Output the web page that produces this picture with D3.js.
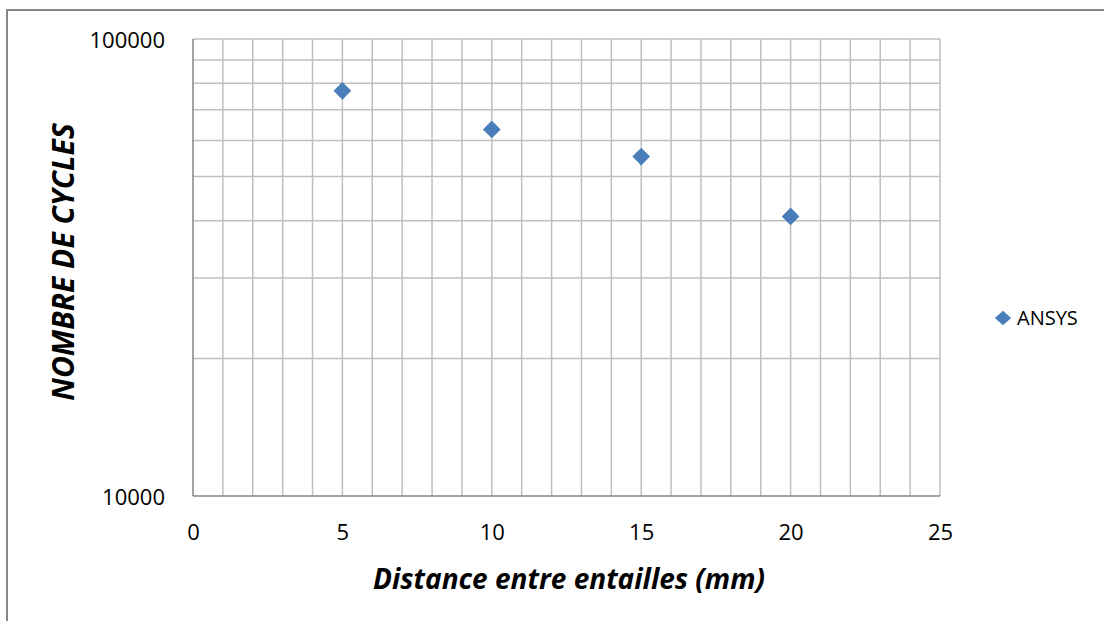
<!DOCTYPE html>
<html>
<head>
<meta charset="utf-8">
<script src="https://cdn.jsdelivr.net/npm/d3@7"></script>
<style>
  html, body { margin: 0; padding: 0; background: #fff; }
  svg text { font-family: "Open Sans", sans-serif; fill: #000; }
</style>
</head>
<body>
<div id="chart"></div>
<script>
const distances = [5, 10, 15, 20];
const cycles = [77000, 63400, 55300, 40900];
const xTicks = [0, 5, 10, 15, 20, 25];
const yTicks = [10000, 100000];
const seriesName = "ANSYS";

const width = 1104, height = 621;
const margin = { top: 39, right: 164, bottom: 125, left: 193 };
const innerW = width - margin.left - margin.right;
const innerH = height - margin.top - margin.bottom;

const svg = d3.select("#chart").append("svg")
  .attr("width", width)
  .attr("height", height);

// outer chart border (runs off the right and bottom edges)
svg.append("rect")
  .attr("x", 7).attr("y", 10)
  .attr("width", width + 10).attr("height", height + 10)
  .attr("fill", "none")
  .attr("stroke", "#868686")
  .attr("stroke-width", 2);

const g = svg.append("g")
  .attr("transform", `translate(${margin.left},${margin.top})`);

const x = d3.scaleLinear().domain([0, 25]).range([0, innerW]);
const y = d3.scaleLog().domain([10000, 100000]).range([innerH, 0]);

// grid: minor verticals every 1 unit
g.append("g")
  .selectAll("line")
  .data(d3.range(1, 25))
  .join("line")
  .attr("x1", d => x(d)).attr("x2", d => x(d))
  .attr("y1", 0).attr("y2", innerH)
  .attr("stroke", "#bfbfbf")
  .attr("stroke-width", 1.5);

// grid: log horizontals
g.append("g")
  .selectAll("line")
  .data(y.ticks().filter(d => d > 10000))
  .join("line")
  .attr("x1", 0).attr("x2", innerW)
  .attr("y1", d => y(d)).attr("y2", d => y(d))
  .attr("stroke", "#bfbfbf")
  .attr("stroke-width", 1.5);

// right border of plot
g.append("line")
  .attr("x1", innerW).attr("x2", innerW)
  .attr("y1", 0).attr("y2", innerH)
  .attr("stroke", "#bfbfbf").attr("stroke-width", 1.5);

// axes lines
g.append("line")
  .attr("x1", 0).attr("x2", 0).attr("y1", 0).attr("y2", innerH)
  .attr("stroke", "#868686").attr("stroke-width", 1.5);
g.append("line")
  .attr("x1", 0).attr("x2", innerW).attr("y1", innerH).attr("y2", innerH)
  .attr("stroke", "#868686").attr("stroke-width", 1.5);

// tick labels
const xAxis = d3.axisBottom(x).tickValues(xTicks).tickSize(0).tickPadding(28);
g.append("g")
  .attr("transform", `translate(0,${innerH})`)
  .call(xAxis)
  .call(s => s.select(".domain").remove())
  .selectAll("text")
  .style("font-size", "22px")
  .style("font-family", "'Open Sans', sans-serif");

const yAxis = d3.axisLeft(y).tickValues(yTicks).tickFormat(d3.format("d")).tickSize(0).tickPadding(28);
g.append("g")
  .call(yAxis)
  .call(s => s.select(".domain").remove())
  .selectAll("text")
  .attr("dy", "0.38em")
  .style("font-size", "22px")
  .style("font-family", "'Open Sans', sans-serif");

// points
const diamond = d3.symbol().type(d3.symbolDiamond2).size(200);
const data = distances.map((d, i) => ({ x: d, y: cycles[i] }));
g.selectAll("path.pt")
  .data(data)
  .join("path")
  .attr("class", "pt")
  .attr("d", diamond)
  .attr("transform", d => `translate(${x(d.x)},${y(d.y)})`)
  .attr("fill", "#4a7ebb");

// axis titles
svg.append("text")
  .attr("x", 569)
  .attr("y", 589)
  .attr("text-anchor", "middle")
  .style("font-size", "28px")
  .style("font-weight", "bold")
  .style("font-style", "italic")
  .text("Distance entre entailles (mm)");

svg.append("text")
  .attr("transform", "translate(74,262) rotate(-90)")
  .attr("text-anchor", "middle")
  .style("font-size", "30px")
  .style("font-weight", "bold")
  .style("font-style", "italic")
  .text("NOMBRE DE CYCLES");

// legend
const legend = svg.append("g").attr("transform", "translate(1003,318)");
legend.append("path")
  .attr("d", d3.symbol().type(d3.symbolDiamond2).size(170))
  .attr("transform", "scale(1,0.88)")
  .attr("fill", "#4a7ebb");
legend.append("text")
  .attr("x", 14).attr("y", 7)
  .style("font-size", "20px")
  .text(seriesName);
</script>
</body>
</html>
